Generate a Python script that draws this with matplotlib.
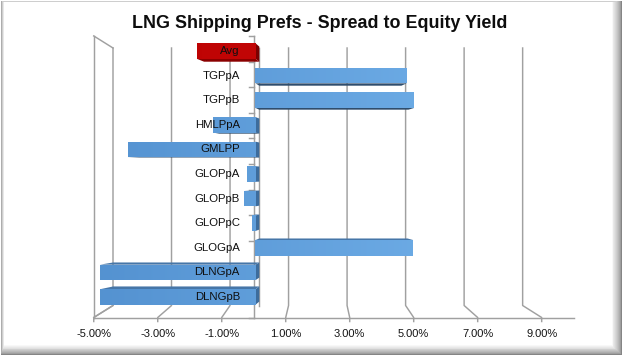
import numpy as np
import matplotlib
matplotlib.use("Agg")
import matplotlib.pyplot as plt
from matplotlib.patches import Polygon, Rectangle
from matplotlib.colors import LinearSegmentedColormap, to_rgb

plt.rcParams['font.family'] = ['Liberation Sans', 'DejaVu Sans']

# data (percent)
categories = ["Avg", "TGPpA", "TGPpB", "HMLPpA", "GMLPP", "GLOPpA", "GLOPpB",
              "GLOPpC", "GLOGpA", "DLNGpA", "DLNGpB"]
values = [-1.89, 4.86, 5.10, -1.37, -4.11, -0.28, -0.36, -0.12, 5.07, -5.00, -5.00]
ticks = [-5, -3, -1, 1, 3, 5, 7, 9]
tick_labels = ["-5.00%", "-3.00%", "-1.00%", "1.00%", "3.00%", "5.00%", "7.00%", "9.00%"]
x_min, x_max = -5, 10
title = "LNG Shipping Prefs - Spread to Equity Yield"

W, H = 622, 355
fig = plt.figure(figsize=(W / 100, H / 100), dpi=100)

# background axes in pixel coords (y down) for frame / walls
bg = fig.add_axes([0, 0, 1, 1])
bg.set_xlim(0, W)
bg.set_ylim(H, 0)
bg.axis("off")

# bevelled frame
g0 = np.array(to_rgb("#858585"))
n_b = 12
for j in range(n_b):
    t = (j / (n_b - 1)) ** 0.65
    c = g0 + (1 - g0) * t
    l, tp = 0.5 + 0.35 * j, 0.5 + 0.18 * j
    r, b = W - 0.5 - 0.9 * j, H - 0.5 - 0.85 * j
    bg.add_patch(Rectangle((l, tp), r - l, b - tp, color=c, lw=0))

# perspective of the 3d box (pixels)
cx, cy = 319, 177
kf = 1.0935
yb_top, yb_floor = 48, 305.5


def xb(v):
    return 259.3 + 29.26 * v


def fr(x, y):
    return cx + kf * (x - cx), cy + kf * (y - cy)


gc = "#a0a0a0"
glw = 1.05
# left wall
ft = fr(xb(x_min), yb_top)
fb = fr(xb(x_min), yb_floor)
bg.plot([ft[0], xb(x_min)], [ft[1], yb_top], color=gc, lw=glw)
bg.plot([ft[0], fb[0]], [ft[1], fb[1]], color=gc, lw=glw)
bg.plot([xb(x_min), fb[0]], [yb_floor, fb[1]], color=gc, lw=glw)
# floor front edge
fe = fr(xb(x_max), yb_floor)
bg.plot([fb[0], fe[0]], [fb[1], fe[1]], color=gc, lw=glw)

# gridlines + ticks
for v, lab in zip(ticks, tick_labels):
    xf, yf = fr(xb(v), yb_floor)
    bg.plot([xb(v), xb(v), xf, xf], [yb_top, yb_floor, yf, yf + 4], color=gc, lw=glw)
    bg.text(xf, 334, lab, ha="center", va="center", fontsize=8, color="#141414")

# category axis (front) and zero line (back)
bg.plot([xb(0), xb(0)], [yb_top, yb_floor], color=gc, lw=glw)
xa, ya_top = fr(xb(0), yb_top)
_, ya_bot = fr(xb(0), yb_floor)
bg.plot([xa, xa], [ya_top, ya_bot], color=gc, lw=glw)
for j in range(len(categories) + 1):
    _, yy = fr(xb(0), yb_top + j * (yb_floor - yb_top) / len(categories))
    bg.plot([xa - 4.5, xa], [yy, yy], color=gc, lw=glw)

bg.text(320, 27.5, title, ha="center", va="baseline", fontsize=12.9,
        fontweight="bold", color="#0d0d0d")

# main axes: bar front plane
bx0, bsx = 255.5, 31.1
by0, bsy = 51, 24.6
x_lo, x_hi = -6, 11
y_lo, y_hi = -1, 11.5
lp, rp = bx0 + bsx * x_lo, bx0 + bsx * x_hi
tp, bp = by0 + bsy * y_lo, by0 + bsy * y_hi
ax = fig.add_axes([lp / W, 1 - bp / H, (rp - lp) / W, (bp - tp) / H])
ax.patch.set_alpha(0)
ax.axis("off")

pos = np.arange(len(categories))
bh = 0.63
is_avg = [c == "Avg" for c in categories]
bars = ax.barh(pos, values, height=bh, color=["#c00000" if a else "#5b9bd5" for a in is_avg],
               lw=0, zorder=3)

blue_cm = LinearSegmentedColormap.from_list("b", ["#5290cf", "#78b7ef"])
red_cm = LinearSegmentedColormap.from_list("r", ["#b80000", "#d41010"])
grad = np.linspace(0, 1, 256).reshape(1, -1)

vc = (cx - bx0) / bsx
ic = (cy - by0) / bsy
sx, sy = 0.94, 0.975


def back(x, y):
    return vc + sx * (x - vc), ic + sy * (y - ic)


for i, (p, v, a) in enumerate(zip(bars, values, is_avg)):
    x0, x1 = min(0, v), max(0, v)
    t, u = i - bh / 2, i + bh / 2
    side = "#8a0000" if a else ("#2f4d6d" if i < ic else "#4676a8")
    endc = "#7a0000" if a else "#3d6c9c"
    ye = u if i < ic else t
    bg_pts = [(x0, ye), (x1, ye), back(x1, ye), back(x0, ye)]
    ax.add_patch(Polygon(bg_pts, closed=True, color=side, lw=0, zorder=2.5))
    if x1 < vc:
        ax.add_patch(Polygon([(x1, t), (x1, u), back(x1, u), back(x1, t)],
                             closed=True, color=endc, lw=0, zorder=2.4))
    if x0 > vc:
        ax.add_patch(Polygon([(x0, t), (x0, u), back(x0, u), back(x0, t)],
                             closed=True, color=endc, lw=0, zorder=2.4))
    im = ax.imshow(grad, extent=(x_lo, x_hi, u, t), cmap=red_cm if a else blue_cm,
                   aspect="auto", zorder=3.1, interpolation="bilinear")
    im.set_clip_path(p)
    ax.text(-0.5, i, categories[i], ha="right", va="center", fontsize=8.2,
            color="#0f0f0f", zorder=5)

ax.set_xlim(x_lo, x_hi)
ax.set_ylim(y_hi, y_lo)

fig.savefig("out.png", dpi=100)
